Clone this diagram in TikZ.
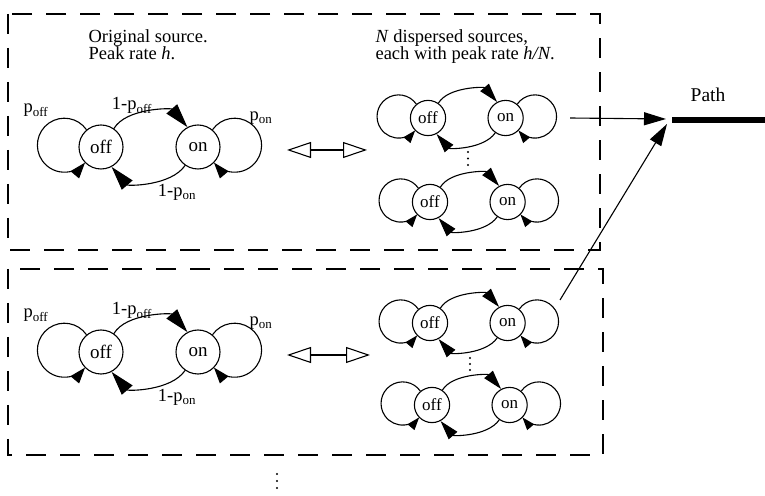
\documentclass[tikz,border=0pt]{standalone}
\usepackage{fontspec}
\setmainfont{Liberation Serif}
\usetikzlibrary{arrows.meta}
\newcommand\chain[5]{%
  \pgfmathsetmacro\chs{#4}%
  \pgfmathsetmacro\chal{24*#4}\pgfmathsetmacro\chaw{14*#4}%
  \pgfmathsetmacro\chll{16*#4}\pgfmathsetmacro\chlw{11*#4}%
  \begin{scope}[shift={(#2,#3)}]
    \node[st, minimum size={44*#4}, font=\fontsize{#5}{#5}\selectfont] (#1off) at (0,0) {off};
    \node[st, minimum size={44*#4}, font=\fontsize{#5}{#5}\selectfont] (#1on) at ({97*#4},0) {on};
    \draw[-{Triangle[length=\chal pt,width=\chaw pt]}] (#1off.55) .. controls ({25*\chs},{39*\chs}) and ({70*\chs},{39*\chs}) .. (#1on.118);
    \draw[-{Triangle[length=\chal pt,width=\chaw pt]}] (#1on.-125) .. controls ({70*\chs},{-39*\chs}) and ({27*\chs},{-39*\chs}) .. (#1off.-62);
    \draw[-{Triangle[length=\chll pt,width=\chlw pt]}] (#1off.130) arc[start angle=35, end angle=320, radius={27*\chs}];
    \draw[-{Triangle[length=\chll pt,width=\chlw pt]}] (#1on.50) arc[start angle=145, end angle=-140, radius={27*\chs}];
  \end{scope}}
\newcommand\chainlabels[3]{%
  \begin{scope}[shift={(#2,#3)}]
    \node[anchor=base] (#1lpoff) at (-65,34) {p\textsubscript{off}};
    \node[anchor=base] (#1lqoff) at (31,37) {1-p\textsubscript{off}};
    \node[anchor=base] (#1lpon) at (160,26) {p\textsubscript{on}};
    \node[anchor=base] (#1lqon) at (76,-50) {1-p\textsubscript{on}};
  \end{scope}}
\begin{document}
\begin{tikzpicture}[x=1pt,y=1pt, line width=1.1pt,
  every node/.style={inner sep=0pt, font=\fontsize{18.5}{20}\selectfont},
  st/.style={draw, circle, line width=1.1pt},
  dbox/.style={dash pattern=on 20pt off 14pt, line width=1.1pt},
  dblarrow/.style={{Triangle[open,length=24pt,width=16pt]}-{Triangle[open,length=24pt,width=16pt]}},
  patharrow/.style={-{Triangle[length=22pt,width=13pt]}},
  dot/.style={circle, fill, inner sep=0pt, minimum size=2.2pt}]
\useasboundingbox (0,0) rectangle (765,495);

% dashed boxes
\draw[dbox] (8,481) rectangle (600,245);
\draw[dbox] (8,226) rectangle (603,40);

% texts
\node[anchor=base west, align=left, font=\fontsize{18.5}{15.5}\selectfont] (t1) at (88,435) {Original source.\\Peak rate \textit{h}.};
\node[anchor=base west, align=left, font=\fontsize{18.5}{15.5}\selectfont] (t3) at (375,435) {\textit{N} dispersed sources,\\each with peak rate \textit{h/N}.};

% chains
\chain{ba}{101}{348}{1}{19}
\chainlabels{ba}{101}{348}
\chain{sa}{428}{377}{0.8}{17}
\chain{sb}{430}{293}{0.8}{17}

\chain{bb}{101}{143}{1}{19}
\chainlabels{bb}{101}{143}
\chain{sc}{430}{172}{0.8}{17}
\chain{sd}{432}{90}{0.8}{17}

% double arrows
\coordinate (dla) at (287,345); \coordinate (dra) at (367,345);
\draw[dblarrow] (dla) -- (dra);
\coordinate (dlb) at (287,140); \coordinate (drb) at (370,140);
\draw[dblarrow] (dlb) -- (drb);

% dots
\node[dot] (d1) at (468,343) {}; \node[dot] (d2) at (468,336.5) {}; \node[dot] (d3) at (468,330) {};
\node[dot] (d4) at (470,137) {}; \node[dot] (d5) at (470,131) {}; \node[dot] (d6) at (470,125) {};
\node[dot] (d7) at (277,21) {}; \node[dot] (d8) at (277,14) {}; \node[dot] (d9) at (277,7) {};

% path
\coordinate (pl) at (672,375); \coordinate (pr) at (765,375);
\draw[line width=6pt] (pl) -- (pr);
\node[anchor=base, font=\fontsize{19.5}{20}\selectfont] (plabel) at (708,393) {Path};
\coordinate (tipa) at (666,376);
\coordinate (tipb) at (667,371);
\coordinate (sa0) at (570,377);
\coordinate (sb0) at (560,195);
\draw[patharrow] (sa0) -- (tipa);
\draw[patharrow] (sb0) -- (tipb);
\end{tikzpicture}
\end{document}
